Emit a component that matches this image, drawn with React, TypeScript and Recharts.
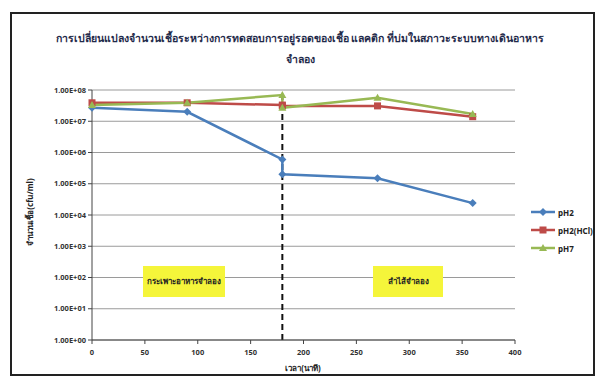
import React from 'react';
import {
  LineChart,
  Line,
  XAxis,
  YAxis,
  CartesianGrid,
  ReferenceLine,
} from 'recharts';

// time points (min); 180 appears twice: end of stomach stage / start of intestine stage
const minutes = [0, 90, 180, 180, 270, 360];
const ph2 = [2.7e7, 2.0e7, 6.0e5, 2.0e5, 1.5e5, 2.4e4];
const ph2Hcl = [3.9e7, 3.9e7, 3.3e7, 3.1e7, 3.1e7, 1.4e7];
const ph7 = [3.3e7, 3.9e7, 6.9e7, 2.7e7, 5.6e7, 1.7e7];

const xTicks = [0, 50, 100, 150, 200, 250, 300, 350, 400];
const yTicks = [1, 10, 100, 1e3, 1e4, 1e5, 1e6, 1e7, 1e8];

const seriesNames = ['pH2', 'pH2(HCl)', 'pH7'];
const colors = ['#4a7ebb', '#be4b48', '#98b954'];

const data = minutes.map((t, i) => ({ t, a: ph2[i], b: ph2Hcl[i], c: ph7[i] }));

const font = '"Noto Sans", "Liberation Sans", sans-serif';

const sci = (v: number) => {
  const e = Math.round(Math.log10(v));
  return `1.00E${e < 0 ? '-' : '+'}${String(Math.abs(e)).padStart(2, '0')}`;
};

const Diamond = (props: any) => {
  const { cx, cy, stroke } = props;
  if (cx == null || cy == null) return null;
  return <path d={`M${cx},${cy - 4}L${cx + 4},${cy}L${cx},${cy + 4}L${cx - 4},${cy}Z`} fill={stroke} />;
};
const Square = (props: any) => {
  const { cx, cy, stroke } = props;
  if (cx == null || cy == null) return null;
  return <rect x={cx - 3.5} y={cy - 3.5} width={7} height={7} fill={stroke} />;
};
const Triangle = (props: any) => {
  const { cx, cy, stroke } = props;
  if (cx == null || cy == null) return null;
  return <path d={`M${cx},${cy - 4}L${cx + 4},${cy + 3}L${cx - 4},${cy + 3}Z`} fill={stroke} />;
};
const markers = [Diamond, Square, Triangle];

function LegendBox() {
  return (
    <div style={{ position: 'absolute', left: 530, top: 203, fontFamily: font, fontSize: 8, fontWeight: 700, color: '#222' }}>
      {seriesNames.map((name, i) => {
        const M = markers[i];
        return (
          <div key={name} style={{ display: 'flex', alignItems: 'center', height: 18 }}>
            <svg width={26} height={10}>
              <line x1={1} y1={5} x2={25} y2={5} stroke={colors[i]} strokeWidth={2.5} />
              <M cx={13} cy={5} stroke={colors[i]} />
            </svg>
            <span style={{ marginLeft: 2 }}>{name}</span>
          </div>
        );
      })}
    </div>
  );
}

const tag: React.CSSProperties = {
  position: 'absolute',
  background: '#f5f53a',
  fontFamily: font,
  fontSize: 8,
  fontWeight: 700,
  color: '#222',
  display: 'flex',
  alignItems: 'center',
  justifyContent: 'center',
};

const tickStyle = { fontSize: 7.5, fill: '#333', fontFamily: font, fontWeight: 700 };

export default function App() {
  return (
    <div style={{ position: 'absolute', left: 0, top: 0, width: 603, height: 383, background: '#fff' }}>
      <div
        style={{
          position: 'absolute',
          left: 10,
          top: 12,
          width: 585,
          height: 364,
          border: '2px solid #222',
          boxSizing: 'border-box',
        }}
      />
      <div
        style={{
          position: 'absolute',
          left: 30,
          top: 28,
          width: 540,
          textAlign: 'center',
          fontFamily: font,
          fontSize: 10.5,
          fontWeight: 700,
          color: '#1f2a4a',
          lineHeight: '21px',
          whiteSpace: 'nowrap',
        }}
      >
        การเปลี่ยนแปลงจำนวนเชื้อระหว่างการทดสอบการอยู่รอดของเชื้อ แลคติก ที่บ่มในสภาวะระบบทางเดินอาหาร
        <br />
        จำลอง
      </div>
      <div
        style={{
          position: 'absolute',
          left: 30,
          top: 212,
          transform: 'translate(-50%, -50%) rotate(-90deg)',
          fontFamily: font,
          fontSize: 8,
          fontWeight: 700,
          color: '#222',
          whiteSpace: 'nowrap',
        }}
      >
        จำนวนเชื้อ(cfu/ml)
      </div>
      <div
        style={{
          position: 'absolute',
          left: 303,
          top: 368,
          transform: 'translate(-50%, -50%)',
          fontFamily: font,
          fontSize: 8,
          fontWeight: 700,
          color: '#222',
        }}
      >
        เวลา(นาที)
      </div>
      <div style={{ position: 'absolute', left: 0, top: 0 }}>
        <LineChart width={603} height={383} data={data} margin={{ top: 90, right: 88, bottom: 33, left: 10 }}>
          <CartesianGrid vertical={false} stroke="#9a9a9a" strokeWidth={1} />
          <XAxis
            dataKey="t"
            type="number"
            domain={[0, 400]}
            ticks={xTicks}
            height={10}
            tick={{ ...tickStyle, dy: 4 }}
            tickSize={4}
            tickLine={{ stroke: '#444' }}
            axisLine={{ stroke: '#444' }}
          />
          <YAxis
            scale="log"
            domain={[1, 1e8]}
            ticks={yTicks}
            tickFormatter={sci}
            width={82}
            allowDataOverflow
            tick={tickStyle}
            tickSize={4}
            tickLine={{ stroke: '#444' }}
            axisLine={{ stroke: '#444' }}
          />
          <ReferenceLine x={180} stroke="#111" strokeWidth={2} strokeDasharray="6 4" />
          <Line dataKey="a" name={seriesNames[0]} stroke={colors[0]} strokeWidth={2.5} dot={<Diamond />} isAnimationActive={false} />
          <Line dataKey="b" name={seriesNames[1]} stroke={colors[1]} strokeWidth={2.5} dot={<Square />} isAnimationActive={false} />
          <Line dataKey="c" name={seriesNames[2]} stroke={colors[2]} strokeWidth={2.5} dot={<Triangle />} isAnimationActive={false} />
        </LineChart>
      </div>
      <div style={{ ...tag, left: 143, top: 266, width: 82, height: 31 }}>กระเพาะอาหารจำลอง</div>
      <div style={{ ...tag, left: 373, top: 266, width: 70, height: 31 }}>ลำไส้จำลอง</div>
      <LegendBox />
    </div>
  );
}
